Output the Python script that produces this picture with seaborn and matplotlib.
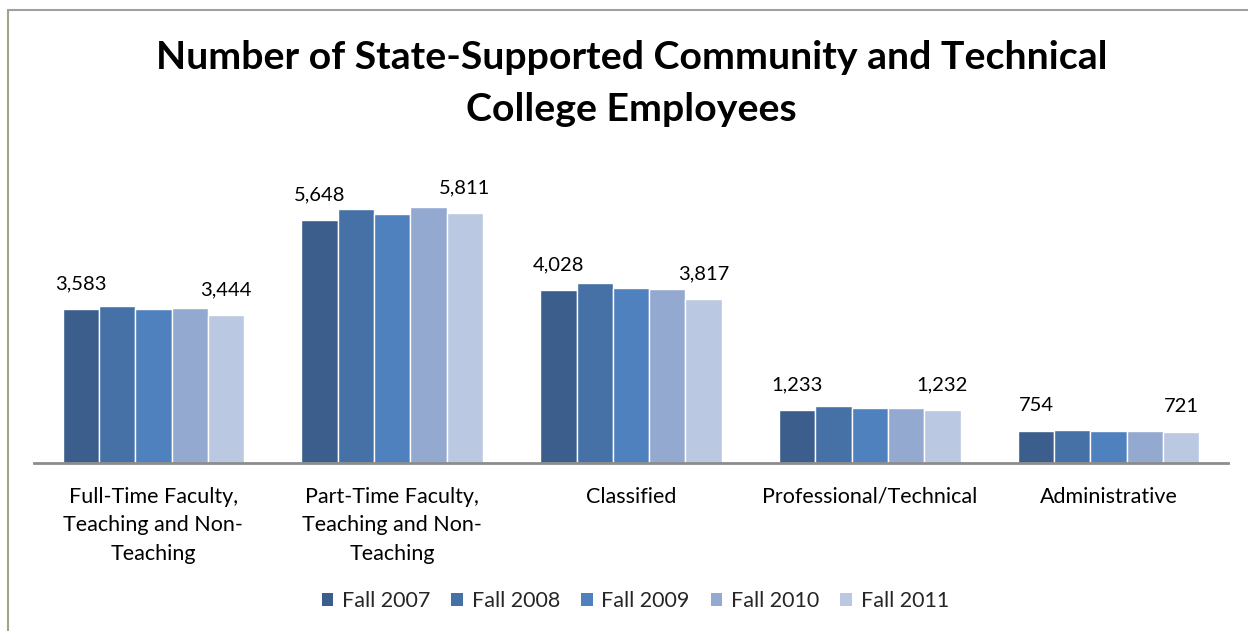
import matplotlib
matplotlib.use("Agg")
import matplotlib.pyplot as plt
from matplotlib.lines import Line2D
import seaborn as sns
import pandas as pd

categories = ["Full-Time Faculty,\nTeaching and Non-\nTeaching",
              "Part-Time Faculty,\nTeaching and Non-\nTeaching",
              "Classified", "Professional/Technical", "Administrative"]
years = ["Fall 2007", "Fall 2008", "Fall 2009", "Fall 2010", "Fall 2011"]
fall_2007 = [3583, 5648, 4028, 1233, 754]
fall_2008 = [3653, 5905, 4177, 1318, 775]
fall_2009 = [3590, 5787, 4060, 1279, 752]
fall_2010 = [3606, 5943, 4044, 1271, 735]
fall_2011 = [3444, 5811, 3817, 1232, 721]
colors = ["#3B5E8C", "#4571A6", "#4E81BD", "#94A9D0", "#BAC8E2"]

series = [fall_2007, fall_2008, fall_2009, fall_2010, fall_2011]
rows = []
for yr, vals in zip(years, series):
    for cat, v in zip(categories, vals):
        rows.append({"Category": cat, "Year": yr, "Employees": v})
df = pd.DataFrame(rows)

sns.set_theme(style="white")
plt.rcParams["font.family"] = ["Lato", "DejaVu Sans"]

W, H = 1248, 631
fig = plt.figure(figsize=(W / 100, H / 100), dpi=100)
ax_left, ax_right = 34 / W, 1228 / W
ax_bottom = 1 - 463 / H
ax_top = 1 - 150 / H
ax = fig.add_axes([ax_left, ax_bottom, ax_right - ax_left, ax_top - ax_bottom])

sns.barplot(data=df, x="Category", y="Employees", hue="Year", order=categories,
            hue_order=years, palette=colors, saturation=1, width=0.76,
            edgecolor="white", linewidth=1.0, ax=ax, legend=True)

ax.set_ylim(0, 313 * 23.25)
ax.set_xlim(-0.5, len(categories) - 0.5)
for s in ["top", "right", "left"]:
    ax.spines[s].set_visible(False)
ax.spines["bottom"].set_color("#8C8C8C")
ax.spines["bottom"].set_linewidth(2)
ax.set_yticks([])
ax.set_xlabel("")
ax.set_ylabel("")
ax.tick_params(axis="x", length=0, pad=17)
ax.set_xticks(range(len(categories)))
ax.set_xticklabels(categories, fontsize=15.5, color="#000000", linespacing=1.54, va="top")

for idx in (0, len(years) - 1):
    cont = ax.containers[idx]
    ax.bar_label(cont, labels=[f"{v:,}" for v in series[idx]], padding=12,
                 fontsize=14.5, color="#000000")

ax.get_legend().remove()
handles = [plt.Rectangle((0, 0), 1, 1, facecolor=c, edgecolor="none") for c in colors]
fig.legend(handles, years, loc="center", bbox_to_anchor=(0.509, 1 - 601 / H), ncol=5,
           frameon=False, fontsize=15.5, handlelength=0.55, handleheight=0.55,
           handletextpad=0.4, columnspacing=0.97)

fig.text(0.506, 1 - 83.5 / H, "Number of State-Supported Community and Technical\nCollege Employees",
         ha="center", va="center", fontsize=28.3, fontweight="bold", color="#000000",
         linespacing=1.58)

fig.add_artist(Line2D([7.5 / W, 7.5 / W], [0, 1 - 9.5 / H], transform=fig.transFigure,
                      color="#A3A38A", linewidth=1.5))
fig.add_artist(Line2D([7.5 / W, 1], [1 - 9.5 / H, 1 - 9.5 / H], transform=fig.transFigure,
                      color="#A0A0A0", linewidth=1.5))

fig.savefig("out.png", dpi=100)
